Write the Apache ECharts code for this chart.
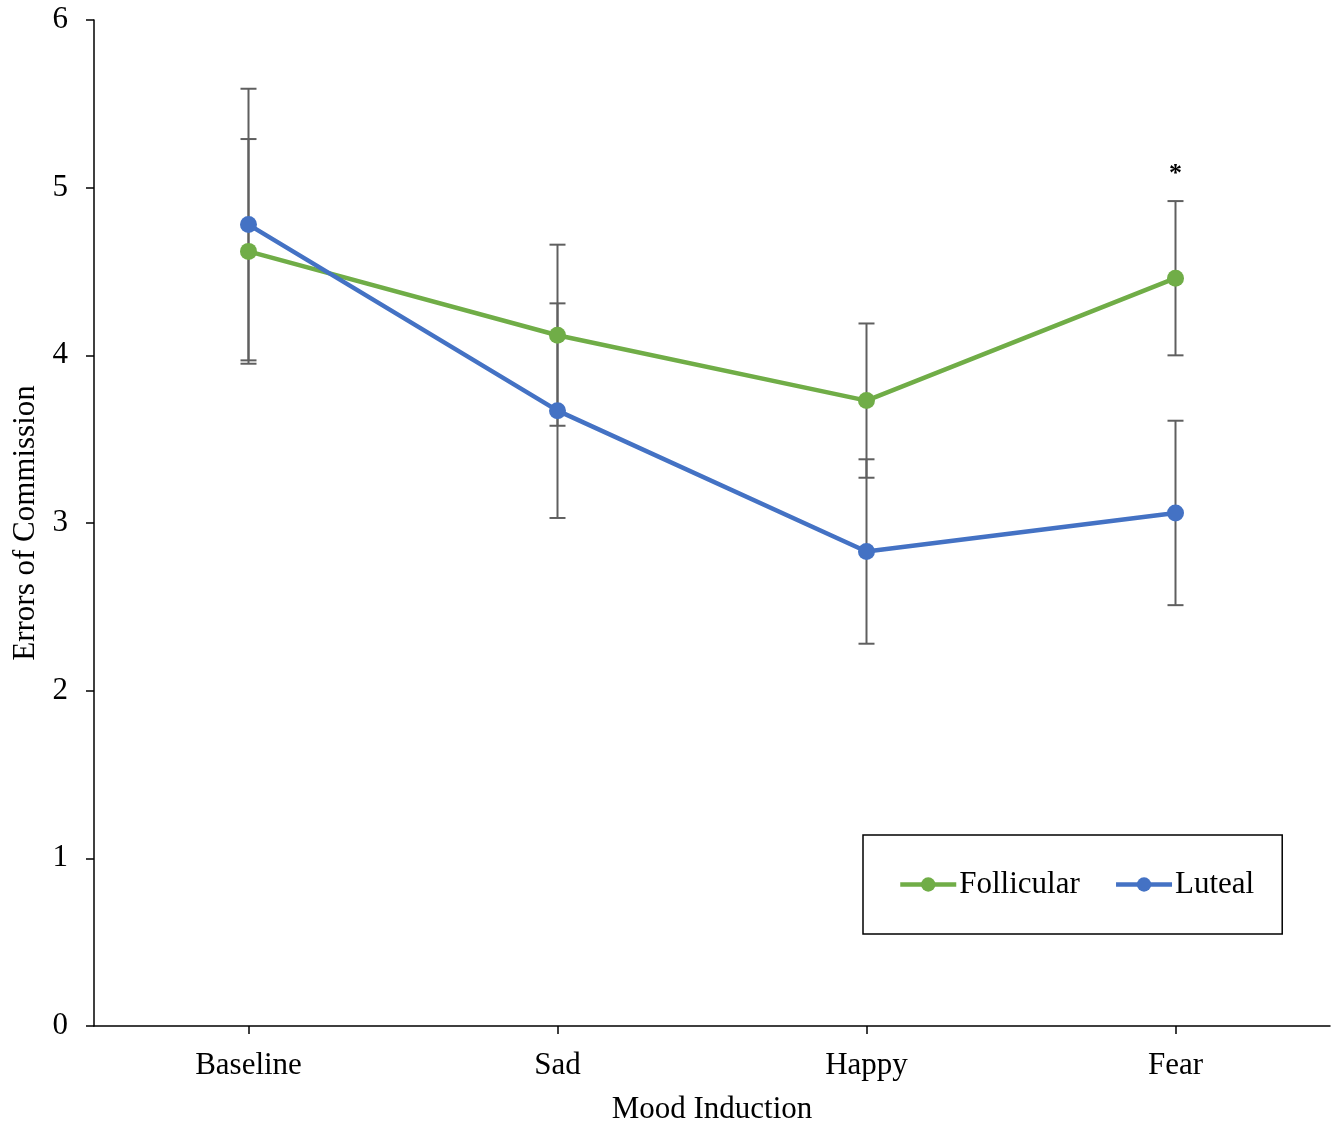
<!DOCTYPE html>
<html>
<head>
<meta charset="utf-8">
<script src="https://cdn.jsdelivr.net/npm/echarts@6/dist/echarts.min.js"></script>
<style>
html,body{margin:0;padding:0;background:#fff;overflow:hidden;}
#chart{width:1338px;height:1130px;}
</style>
</head>
<body>
<div id="chart"></div>
<script>
const categories = ['Baseline', 'Sad', 'Happy', 'Fear'];
const follicularMean = [4.62, 4.12, 3.73, 4.46];
const follicularErr  = [0.67, 0.54, 0.46, 0.46];
const lutealMean     = [4.78, 3.67, 2.83, 3.06];
const lutealErr      = [0.81, 0.64, 0.55, 0.55];
const significance   = ['', '', '', '*'];
const yTicks = [0, 1, 2, 3, 4, 5, 6];

const FONT = 'Liberation Serif';
const GREEN = '#70AD47';
const BLUE = '#4472C4';
const ERR = '#5f5f5f';

function errData(mean, err, sig) {
  return mean.map((m, i) => [i, m - err[i], m + err[i], sig ? sig[i] : '']);
}

function renderErr(params, api) {
  const x = api.value(0);
  const lo = api.coord([x, api.value(1)]);
  const hi = api.coord([x, api.value(2)]);
  const hw = 8;
  const style = { stroke: ERR, lineWidth: 2 };
  const children = [
    { type: 'line', shape: { x1: hi[0], y1: hi[1], x2: lo[0], y2: lo[1] }, style },
    { type: 'line', shape: { x1: hi[0] - hw, y1: hi[1], x2: hi[0] + hw, y2: hi[1] }, style },
    { type: 'line', shape: { x1: lo[0] - hw, y1: lo[1], x2: lo[0] + hw, y2: lo[1] }, style }
  ];
  const s = api.value(3);
  if (s) {
    children.push({
      type: 'text',
      style: { text: s, x: hi[0], y: hi[1] - 27, align: 'center', verticalAlign: 'middle',
               font: 'bold 26px "' + FONT + '"', fill: '#000' }
    });
  }
  return { type: 'group', children };
}

const chart = echarts.init(document.getElementById('chart'), null, { width: 1338, height: 1130 });
chart.setOption({
  animation: false,
  backgroundColor: '#fff',
  grid: { left: 94, width: 1236, top: 20, height: 1010, containLabel: false },
  xAxis: {
    type: 'category',
    data: categories,
    boundaryGap: true,
    name: 'Mood Induction',
    nameLocation: 'middle',
    nameGap: 68,
    nameTextStyle: { fontFamily: FONT, fontSize: 31, color: '#000' },
    axisLine: { lineStyle: { color: '#000', width: 1.5 } },
    axisTick: { show: true, alignWithLabel: true, length: 8, lineStyle: { color: '#000', width: 1.5 } },
    axisLabel: { fontFamily: FONT, fontSize: 31, color: '#000', margin: 24 },
    splitLine: { show: false }
  },
  yAxis: {
    type: 'value',
    min: yTicks[0],
    max: yTicks[yTicks.length - 1],
    interval: 1,
    name: 'Errors of Commission',
    nameLocation: 'middle',
    nameGap: 52,
    nameTextStyle: { fontFamily: FONT, fontSize: 31, color: '#000' },
    axisLine: { show: true, lineStyle: { color: '#000', width: 1.5 } },
    axisTick: { show: true, length: 8, lineStyle: { color: '#000', width: 1.5 } },
    axisLabel: { fontFamily: FONT, fontSize: 31, color: '#000', margin: 26 },
    splitLine: { show: false }
  },
  legend: {
    data: ['Follicular', 'Luteal'],
    left: 863,
    top: 835,
    padding: [34, 28, 34, 35],
    backgroundColor: '#fff',
    borderColor: '#000',
    borderWidth: 1.5,
    itemWidth: 56,
    itemHeight: 18,
    itemGap: 34,
    lineStyle: { width: 4.5 },
    textStyle: { fontFamily: FONT, fontSize: 31, color: '#000', padding: [0, 0, 0, -2] }
  },
  series: [
    {
      type: 'custom', name: 'errF', renderItem: renderErr,
      data: errData(follicularMean, follicularErr, significance), z: 1, silent: true
    },
    {
      type: 'custom', name: 'errL', renderItem: renderErr,
      data: errData(lutealMean, lutealErr, null), z: 1, silent: true
    },
    {
      type: 'line', name: 'Follicular', data: follicularMean, z: 3,
      symbol: 'circle', symbolSize: 17,
      lineStyle: { color: GREEN, width: 4.5 }, itemStyle: { color: GREEN }
    },
    {
      type: 'line', name: 'Luteal', data: lutealMean, z: 3,
      symbol: 'circle', symbolSize: 17,
      lineStyle: { color: BLUE, width: 4.5 }, itemStyle: { color: BLUE }
    }
  ]
});
</script>
</body>
</html>
